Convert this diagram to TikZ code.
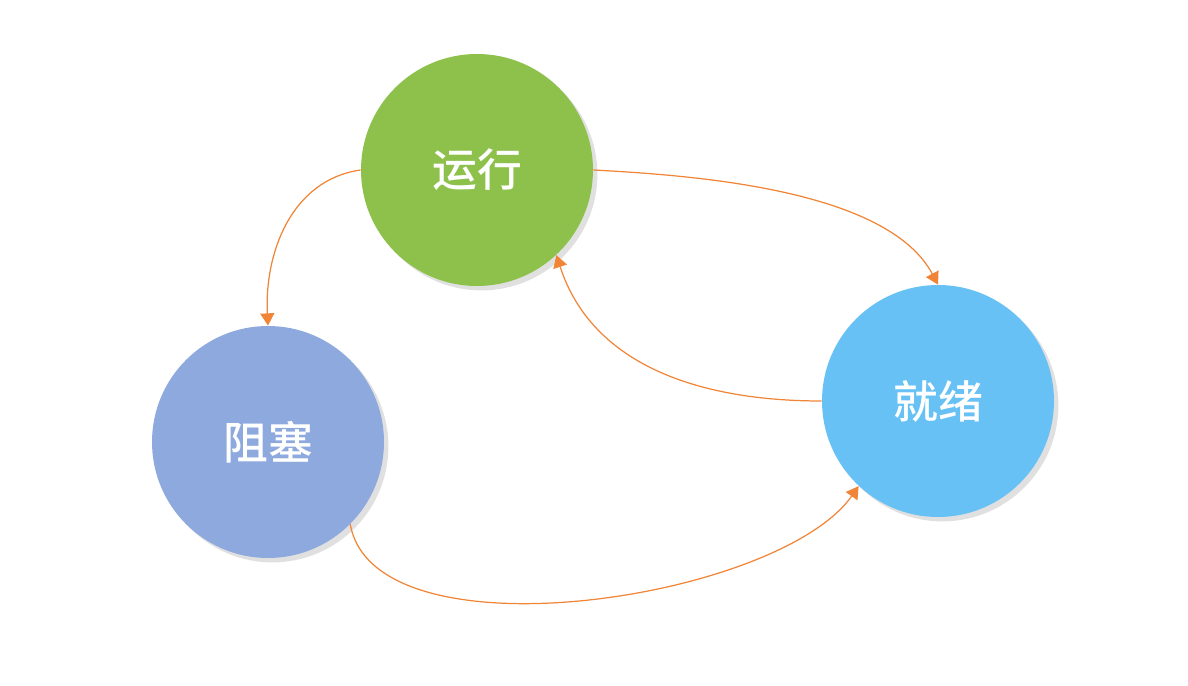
\documentclass[tikz,border=0pt]{standalone}
\usepackage{fontspec}
\newfontfamily\cjk[UprightFont={* Medium}]{Noto Sans CJK SC}
\usetikzlibrary{arrows.meta,shadows}

\definecolor{runGreen}{HTML}{8DC14B}
\definecolor{blockBlue}{HTML}{8DA9DD}
\definecolor{readyBlue}{HTML}{67C1F5}
\definecolor{arrowOrange}{HTML}{F08537}

\tikzset{
    state/.style={circle, minimum size=4.64cm, inner sep=0pt, text=white,
        font=\cjk\fontsize{25.5}{30}\selectfont,
        drop shadow={shadow xshift=2.5pt, shadow yshift=-2.5pt, opacity=0.2, fill=black!60}},
    trans/.style={draw=arrowOrange, line width=0.7pt,
        -{Triangle[width=8pt,length=7pt,fill=arrowOrange]}}
}

\begin{document}
\begin{tikzpicture}
        \useasboundingbox (0,0) rectangle (23.76,13.70);

        % states
        \node[state, fill=runGreen] (run) at (9.54,10.30) {运行};
        \node[state, fill=blockBlue] (blocked) at (5.36,4.86) {阻塞};
        \node[state, fill=readyBlue] (ready) at (18.76,5.68) {就绪};

        % transitions
        \draw[trans] (run.west) to[out=188, in=93] (blocked.north);
        \draw[trans] (run.east) to[out=-3, in=118, looseness=0.75] (ready.north);
        \draw[trans] (ready.west) to[out=180, in=-72] (run.-47);
        \draw[trans] (blocked.-45) to[out=-80, in=-125, looseness=0.7] (ready.227);
    \end{tikzpicture}
\end{document}
